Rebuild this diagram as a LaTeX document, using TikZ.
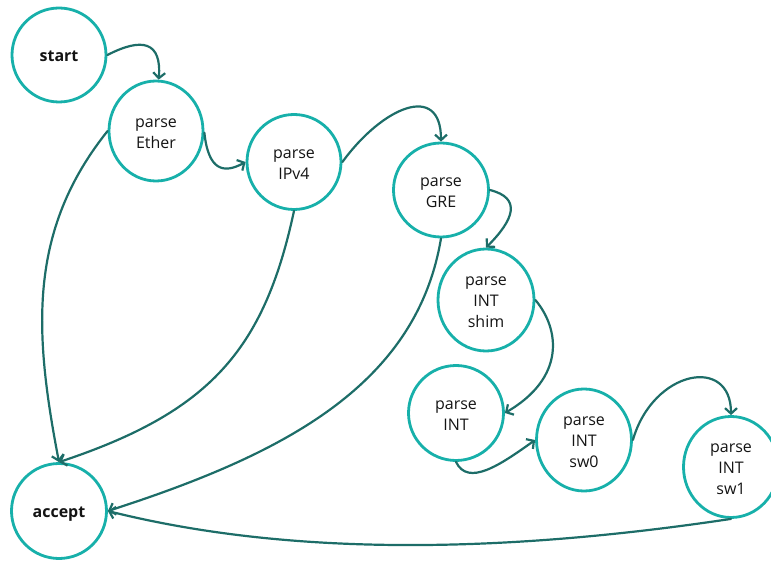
\documentclass[tikz,border=0pt]{standalone}
\usepackage{fontspec}
\setmainfont{Open Sans}
\usetikzlibrary{shapes.geometric,arrows.meta}
\definecolor{ring}{HTML}{17B0AA}
\definecolor{wire}{HTML}{1D6D68}
\definecolor{ink}{HTML}{141414}
% centred stack of label lines, drawn a little lower than its box
\newcommand\statelabel[1]{\raisebox{-2.5pt}[\height][\depth]{\begin{tabular}{@{}c@{}}#1\end{tabular}}}
\tikzset{
  state/.style={ellipse, draw=ring, line width=2.8pt, inner sep=0pt,
    text=ink, font=\fontsize{16}{21}\selectfont},
  bold state/.style={state, font=\fontsize{16}{21}\selectfont\bfseries},
  trans/.style={draw=wire, line width=2.2pt, line cap=round,
    -{Straight Barb[length=5.5pt,width=12pt]}}
}
\begin{document}
\begin{tikzpicture}[x=1pt,y=-1pt]
\useasboundingbox (0,0) rectangle (771,561);
% states
\node[bold state, minimum width=94pt, minimum height=94pt] (start) at (59,55) {\statelabel{start}};
\node[state, minimum width=94pt, minimum height=100pt] (ether) at (156,131) {\statelabel{parse\\Ether}};
\node[state, minimum width=94pt, minimum height=95pt] (ipv4) at (294,162) {\statelabel{parse\\IPv4}};
\node[state, minimum width=95pt, minimum height=94pt] (gre) at (441,190) {\statelabel{parse\\GRE}};
\node[state, minimum width=96pt, minimum height=102pt] (shim) at (486,300) {\statelabel{parse\\INT\\shim}};
\node[state, minimum width=95pt, minimum height=95pt] (int) at (456,413) {\statelabel{parse\\INT}};
\node[state, minimum width=95pt, minimum height=102pt] (sw0) at (584,440) {\statelabel{parse\\INT\\sw0}};
\node[state, minimum width=95pt, minimum height=101pt] (sw1) at (731,467) {\statelabel{parse\\INT\\sw1}};
\node[bold state, minimum width=95pt, minimum height=95pt] (accept) at (59,511) {\statelabel{accept}};
% transitions along the parser chain
\draw[trans] (start.east) .. controls +(35,-18) and +(3,-38) .. (ether.87);
\draw[trans] (ether.-2) .. controls +(4,38) and +(-22,12) .. (ipv4.west);
\draw[trans] (ipv4.east) .. controls +(40,-55) and +(0,-60) .. (gre.north);
\draw[trans] (gre.east) .. controls +(32,8) and +(28,-28) .. (shim.north);
\draw[trans] (shim.east) .. controls +(25,30) and +(60,-35) .. (int.east);
\draw[trans] (int.south) .. controls +(12,25) and +(-35,25) .. (sw0.west);
\draw[trans] (sw0.east) .. controls +(20,-70) and +(0,-60) .. (sw1.north);
% transitions into accept
\draw[trans] (ether.west) .. controls +(-80,100) and +(-25,-130) .. (accept.north);
\draw[trans] (ipv4.south) .. controls +(-30,140) and +(150,-50) .. (accept.north);
\draw[trans] (gre.south) .. controls +(-25,150) and +(170,-55) .. (accept.east);
\draw[trans] (sw1.south) .. controls +(-200,30) and +(200,50) .. (accept.east);
\end{tikzpicture}
\end{document}
